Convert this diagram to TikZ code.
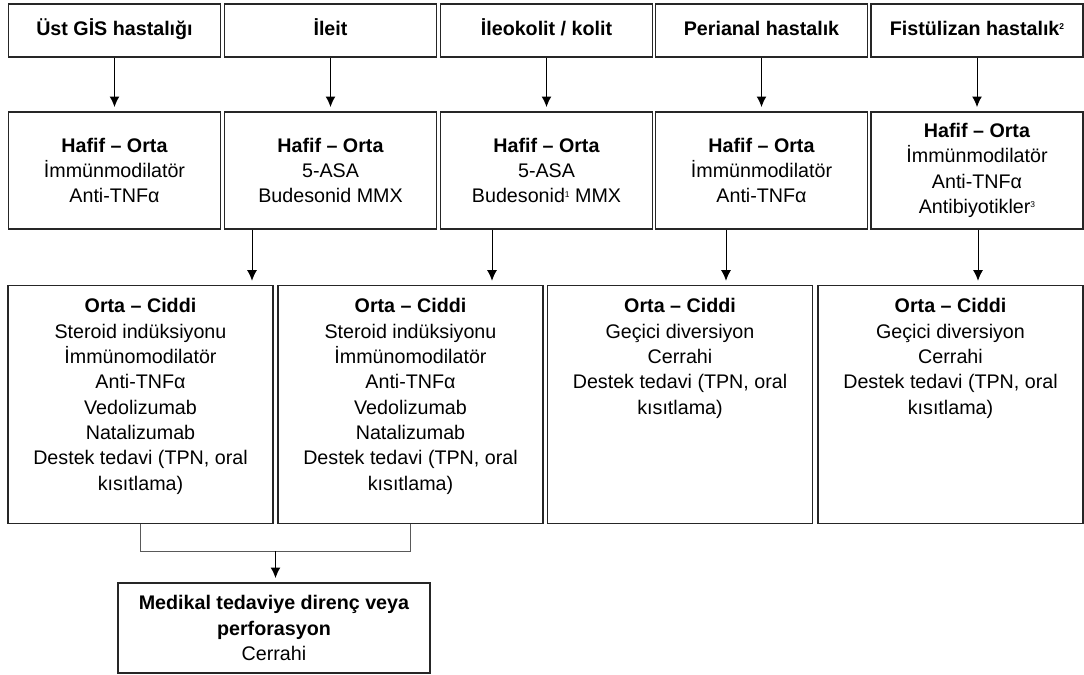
\documentclass[tikz,border=0pt]{standalone}
\usepackage{fontspec}
\setmainfont{Liberation Sans}
\usetikzlibrary{arrows.meta}
\usetikzlibrary{calc}

\newcommand{\fnmark}[1]{\raisebox{0.55ex}{\fontsize{6pt}{6pt}\selectfont #1}}
\newcommand{\toptext}[1]{\parbox[c][5.3cm][t]{6.4cm}{\centering #1}}

\begin{document}
\begin{tikzpicture}[x=0.025cm, y=-0.025cm, >={Latex[length=7.5pt, width=7pt]},
    every node/.style={font=\fontsize{14pt}{18pt}\selectfont},
    box/.style={draw=black!85, line width=1pt, rectangle, align=center, inner sep=0pt},
    headbox/.style={box, minimum width=5.3cm, minimum height=1.325cm, text height=10pt, text depth=3pt, font=\fontsize{14pt}{18pt}\selectfont\bfseries},
    lightbox/.style={box, minimum width=5.3cm, minimum height=2.925cm},
    heavybox/.style={box, anchor=north, minimum width=6.625cm, inner ysep=0.325cm},
    link/.style={->, line width=0.7pt, shorten >=3pt}]
      \useasboundingbox (0,0) rectangle (1084,675);

      % disease sites
      \node [headbox, name=ust] at (114.5, 30.5) {Üst GİS hastalığı};
      \node [headbox, name=ileit] at (330.5, 30.5) {İleit};
      \node [headbox, name=kolit] at (546.5, 30.5) {İleokolit / kolit};
      \node [headbox, name=perianal] at (761.5, 30.5) {Perianal hastalık};
      \node [headbox, name=fistul] at (977, 30.5) {Fistülizan hastalık\fnmark{2}};

      % mild - moderate
      \node [lightbox, name=ust_hafif] at (114.5, 170.5)
      {\textbf{Hafif – Orta}\\İmmünmodilatör\\Anti-TNFα};
      \node [lightbox, name=ileit_hafif] at (330.5, 170.5)
      {\textbf{Hafif – Orta}\\5-ASA\\Budesonid MMX};
      \node [lightbox, name=kolit_hafif] at (546.5, 170.5)
      {\textbf{Hafif – Orta}\\5-ASA\\Budesonid\fnmark{1} MMX};
      \node [lightbox, name=perianal_hafif] at (761.5, 170.5)
      {\textbf{Hafif – Orta}\\İmmünmodilatör\\Anti-TNFα};
      \node [lightbox, name=fistul_hafif] at (977, 170.5)
      {\textbf{Hafif – Orta}\\İmmünmodilatör\\Anti-TNFα\\Antibiyotikler\fnmark{3}};

      % moderate - severe
      \node [heavybox, name=ileit_ciddi] at (140.5, 285)
      {\toptext{\textbf{Orta – Ciddi}\\Steroid indüksiyonu\\İmmünomodilatör\\Anti-TNFα\\Vedolizumab\\Natalizumab\\Destek tedavi (TPN, oral\\kısıtlama)}};
      \node [heavybox, name=kolit_ciddi] at (410.5, 285)
      {\toptext{\textbf{Orta – Ciddi}\\Steroid indüksiyonu\\İmmünomodilatör\\Anti-TNFα\\Vedolizumab\\Natalizumab\\Destek tedavi (TPN, oral\\kısıtlama)}};
      \node [heavybox, name=perianal_ciddi] at (680, 285)
      {\toptext{\textbf{Orta – Ciddi}\\Geçici diversiyon\\Cerrahi\\Destek tedavi (TPN, oral\\kısıtlama)}};
      \node [heavybox, name=fistul_ciddi] at (950.5, 285)
      {\toptext{\textbf{Orta – Ciddi}\\Geçici diversiyon\\Cerrahi\\Destek tedavi (TPN, oral\\kısıtlama)}};

      % surgery
      \node [box, minimum width=7.8cm, minimum height=2.25cm, name=cerrahi] at (274, 628)
      {\textbf{Medikal tedaviye direnç veya}\\\textbf{perforasyon}\\Cerrahi};

      % arrows
      \draw [link] (ust) -- (ust_hafif);
      \draw [link] (ileit) -- (ileit_hafif);
      \draw [link] (kolit) -- (kolit_hafif);
      \draw [link] (perianal) -- (perianal_hafif);
      \draw [link] (fistul) -- (fistul_hafif);

      \coordinate (x_ileit) at (252, 0);
      \coordinate (x_kolit) at (492, 0);
      \coordinate (x_perianal) at (726, 0);
      \coordinate (x_fistul) at (978, 0);
      \draw [link] (ileit_hafif.south -| x_ileit) -- (ileit_ciddi.north -| x_ileit);
      \draw [link] (kolit_hafif.south -| x_kolit) -- (kolit_ciddi.north -| x_kolit);
      \draw [link] (perianal_hafif.south -| x_perianal) -- (perianal_ciddi.north -| x_perianal);
      \draw [link] (fistul_hafif.south -| x_fistul) -- (fistul_ciddi.north -| x_fistul);

      \draw [line width=0.7pt, draw=black!65] (ileit_ciddi.south) -- ++(0, 27) -| (kolit_ciddi.south);
      \coordinate (merge) at ($(ileit_ciddi.south)!0.5!(kolit_ciddi.south) + (0, 27)$);
      \draw [link] (merge) -- (merge |- cerrahi.north);
\end{tikzpicture}
\end{document}
